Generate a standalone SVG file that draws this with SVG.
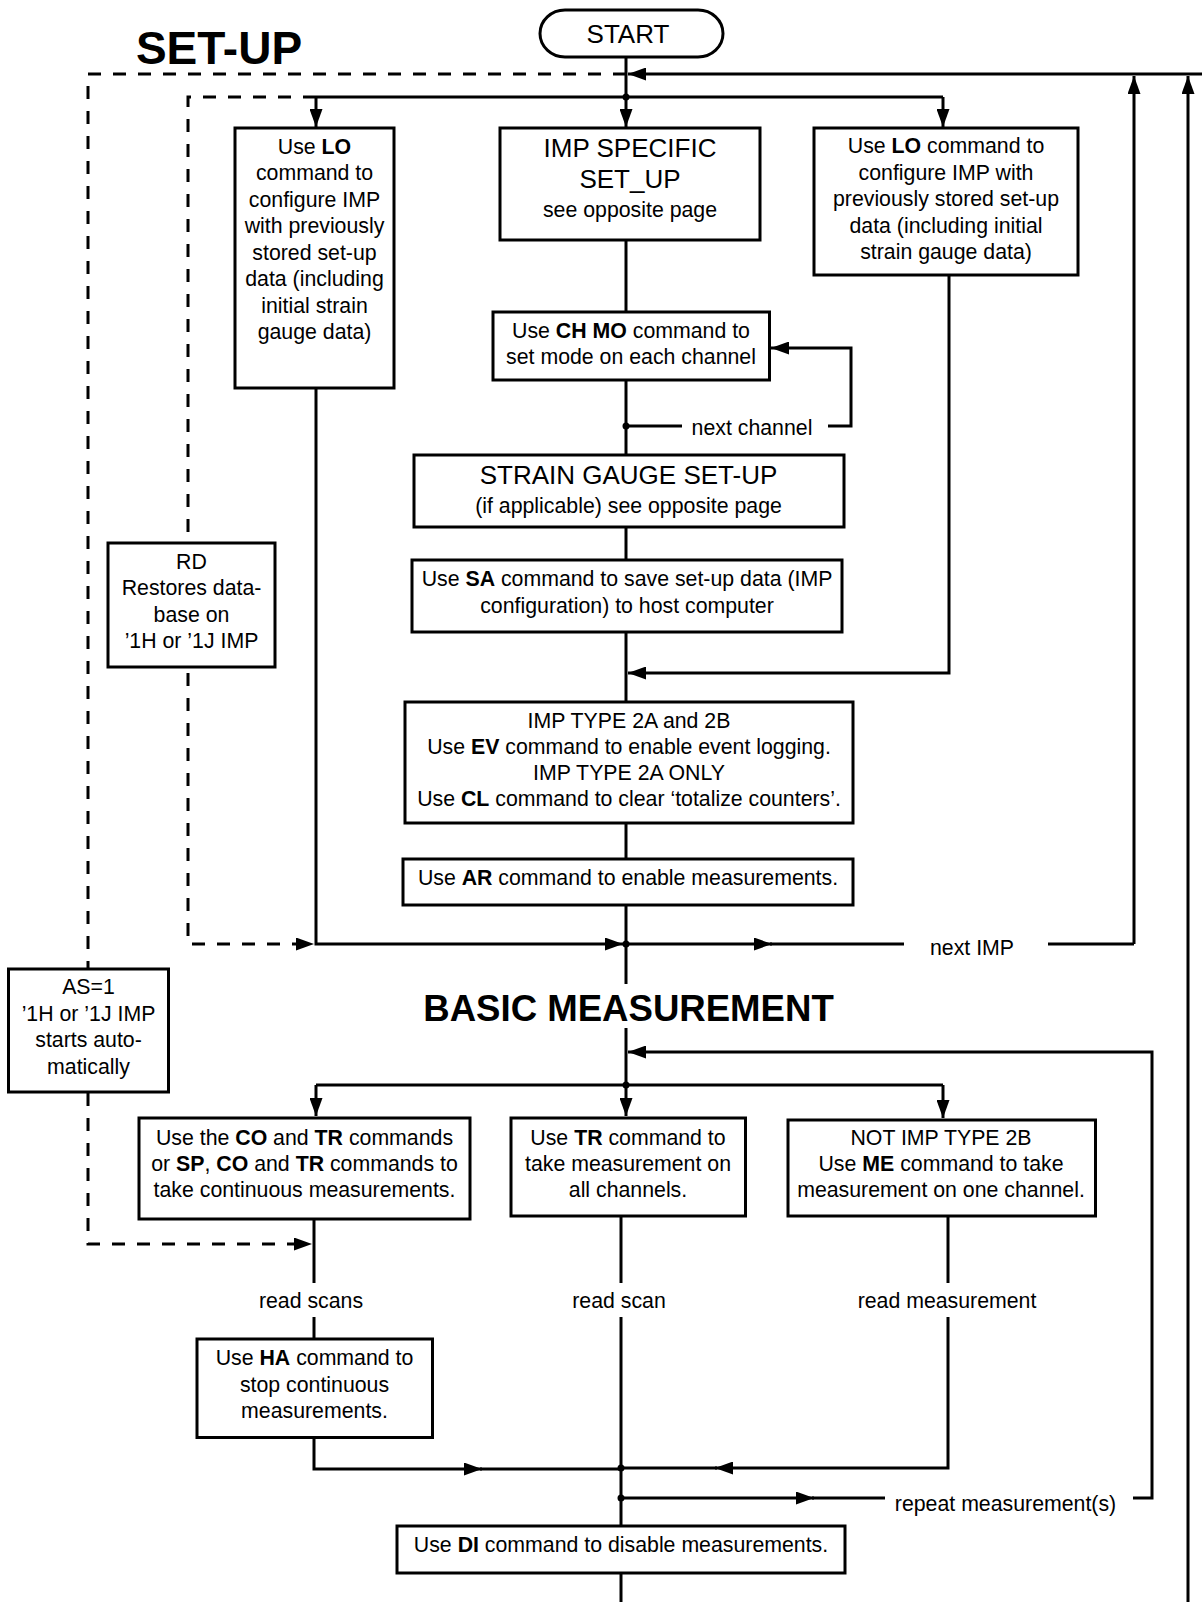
<svg xmlns="http://www.w3.org/2000/svg" width="1202" height="1602" viewBox="0 0 1202 1602">
<defs>
<style>
.box{fill:#fff;stroke:#000;stroke-width:3}
.ln{fill:none;stroke:#000;stroke-width:3}
.dash{fill:none;stroke:#000;stroke-width:3;stroke-dasharray:13 12}
.arr{marker-end:url(#ah)}
.dot{fill:#000}
text{font-family:"Liberation Sans",Arial,Helvetica,sans-serif;font-size:21.3px;fill:#000;text-anchor:middle}
.big{font-size:26px}
.title{font-weight:bold;font-size:46px}
.sub{font-weight:bold;font-size:36.6px}
.b{font-weight:bold}
</style>
<marker id="ah" viewBox="0 0 18 13" refX="18" refY="6.5" markerWidth="18" markerHeight="13" markerUnits="userSpaceOnUse" orient="auto">
<path d="M0,0 L18,6.5 L0,13 z" fill="#000" stroke="none"/>
</marker>
</defs>
<rect x="0" y="0" width="1202" height="1602" fill="#fff"/>

<g id="titles">
<text class="title" x="219" y="64">SET-UP</text>
<text class="sub" x="628.5" y="1021">BASIC MEASUREMENT</text>
</g>

<g id="connectors">
<path class="ln arr" d="M626,57 V127"/>
<path class="ln" d="M316,97 H943"/>
<path class="ln arr" d="M316,97 V127"/>
<path class="ln arr" d="M943,97 V127"/>
<circle class="dot" cx="626" cy="97" r="3.5"/>
<path class="ln arr" d="M1202,74 H628"/>
<path class="ln arr" d="M1134,944 V76"/>
<path class="ln arr" d="M1188,1602 V76"/>
<path class="ln" d="M626,240 V312"/>
<path class="ln" d="M626,380 V455"/>
<path class="ln" d="M626,426 H682"/>
<path class="ln arr" d="M828,426 H851 V348 H771"/>
<circle class="dot" cx="626" cy="426" r="3.5"/>
<text x="752" y="435">next channel</text>
<path class="ln" d="M626,527 V560"/>
<path class="ln" d="M626,632 V702"/>
<path class="ln arr" d="M949,275 V673 H628"/>
<path class="ln" d="M626,823 V859"/>
<path class="ln" d="M626,905 V984"/>
<path class="ln arr" d="M316,388 V944 H623"/>
<path class="ln arr" d="M626,944 H772"/>
<path class="ln" d="M770,944 H904"/>
<path class="ln" d="M1048,944 H1134"/>
<circle class="dot" cx="626" cy="944" r="3.5"/>
<text x="972" y="955">next IMP</text>
<path class="dash" d="M316,97 H188 V533"/>
<path class="dash arr" d="M188,673 V944 H314"/>
<path class="dash" d="M626,74 H88 V968"/>
<path class="dash arr" d="M88,1093 V1244 H312"/>
<path class="ln arr" d="M626,1028 V1116"/>
<path class="ln" d="M316,1085 H943"/>
<path class="ln arr" d="M316,1085 V1116"/>
<path class="ln arr" d="M943,1085 V1118"/>
<circle class="dot" cx="626" cy="1085" r="3.5"/>
<path class="ln arr" d="M1133,1498 H1152 V1052 H628"/>
<path class="ln" d="M314,1219 V1283"/>
<path class="ln" d="M314,1317 V1339"/>
<text x="311" y="1308">read scans</text>
<path class="ln arr" d="M314,1438 V1469 H482"/>
<path class="ln" d="M480,1469 H621"/>
<path class="ln" d="M621,1216 V1283"/>
<path class="ln" d="M621,1317 V1526"/>
<text x="619" y="1308">read scan</text>
<path class="ln" d="M948,1216 V1283"/>
<path class="ln arr" d="M948,1317 V1468 H715"/>
<path class="ln" d="M717,1468 H621"/>
<text x="947" y="1308">read measurement</text>
<circle class="dot" cx="621" cy="1468" r="3.5"/>
<circle class="dot" cx="621" cy="1498" r="3.5"/>
<path class="ln arr" d="M621,1498 H814"/>
<path class="ln" d="M812,1498 H885"/>
<text x="1005.5" y="1511">repeat measurement(s)</text>
<path class="ln" d="M621,1573 V1602"/>
</g>

<g id="start">
<rect class="box" x="540" y="10" width="183" height="47" rx="25" ry="23.5"/>
<text class="big" x="628" y="43">START</text>
</g>

<g id="lo-left">
<rect class="box" x="235" y="128" width="159" height="260"/>
<text x="314.5" y="153.5">Use <tspan class="b">LO</tspan></text>
<text x="314.5" y="180">command to</text>
<text x="314.5" y="206.5">configure IMP</text>
<text x="314.5" y="233">with previously</text>
<text x="314.5" y="259.5">stored set-up</text>
<text x="314.5" y="286">data (including</text>
<text x="314.5" y="312.5">initial strain</text>
<text x="314.5" y="339">gauge data)</text>
</g>

<g id="imp-specific">
<rect class="box" x="500" y="128" width="260" height="112"/>
<text class="big" x="630" y="157">IMP SPECIFIC</text>
<text class="big" x="630" y="188">SET_UP</text>
<text x="630" y="217">see opposite page</text>
</g>

<g id="lo-right">
<rect class="box" x="814" y="128" width="264" height="147"/>
<text x="946" y="153">Use <tspan class="b">LO</tspan> command to</text>
<text x="946" y="179.5">configure IMP with</text>
<text x="946" y="206">previously stored set-up</text>
<text x="946" y="232.5">data (including initial</text>
<text x="946" y="259">strain gauge data)</text>
</g>

<g id="ch-mo">
<rect class="box" x="493" y="312" width="276.5" height="68"/>
<text x="631" y="337.5">Use <tspan class="b">CH MO</tspan> command to</text>
<text x="631" y="363.5">set mode on each channel</text>
</g>

<g id="strain">
<rect class="box" x="414" y="455" width="430" height="72"/>
<text class="big" x="628.5" y="484">STRAIN GAUGE SET-UP</text>
<text x="628.5" y="512.5">(if applicable) see opposite page</text>
</g>

<g id="sa">
<rect class="box" x="412" y="560" width="430" height="72"/>
<text x="627" y="585.5">Use <tspan class="b">SA</tspan> command to save set-up data (IMP</text>
<text x="627" y="612.5">configuration) to host computer</text>
</g>

<g id="ev">
<rect class="box" x="405" y="702" width="448" height="121"/>
<text x="629" y="727.5">IMP TYPE 2A and 2B</text>
<text x="629" y="754">Use <tspan class="b">EV</tspan> command to enable event logging.</text>
<text x="629" y="779.5">IMP TYPE 2A ONLY</text>
<text x="629" y="805.5">Use <tspan class="b">CL</tspan> command to clear ‘totalize counters’.</text>
</g>

<g id="ar">
<rect class="box" x="403" y="859" width="450" height="46"/>
<text x="628" y="884.5">Use <tspan class="b">AR</tspan> command to enable measurements.</text>
</g>

<g id="rd">
<rect class="box" x="108" y="543" width="167" height="124"/>
<text x="191.5" y="568.5">RD</text>
<text x="191.5" y="595">Restores data-</text>
<text x="191.5" y="621.5">base on</text>
<text x="191.5" y="648">’1H or ’1J IMP</text>
</g>

<g id="as">
<rect class="box" x="8.5" y="969" width="160" height="123"/>
<text x="88.5" y="993.5">AS=1</text>
<text x="88.5" y="1020.5">’1H or ’1J IMP</text>
<text x="88.5" y="1046.5">starts auto-</text>
<text x="88.5" y="1073.5">matically</text>
</g>

<g id="co">
<rect class="box" x="139" y="1118" width="331" height="101"/>
<text x="304.5" y="1144.5">Use the <tspan class="b">CO</tspan> and <tspan class="b">TR</tspan> commands</text>
<text x="304.5" y="1170.5">or <tspan class="b">SP</tspan>, <tspan class="b">CO</tspan> and <tspan class="b">TR</tspan> commands to</text>
<text x="304.5" y="1196.5">take continuous measurements.</text>
</g>

<g id="tr">
<rect class="box" x="511" y="1118" width="234.5" height="98"/>
<text x="628" y="1144.5">Use <tspan class="b">TR</tspan> command to</text>
<text x="628" y="1170.5">take measurement on</text>
<text x="628" y="1196.5">all channels.</text>
</g>

<g id="me">
<rect class="box" x="788" y="1120" width="307.5" height="96"/>
<text x="941" y="1144.5">NOT IMP TYPE 2B</text>
<text x="941" y="1170.5">Use <tspan class="b">ME</tspan> command to take</text>
<text x="941" y="1196.5">measurement on one channel.</text>
</g>

<g id="ha">
<rect class="box" x="197" y="1339" width="235.5" height="98.5"/>
<text x="314.5" y="1364.5">Use <tspan class="b">HA</tspan> command to</text>
<text x="314.5" y="1391.5">stop continuous</text>
<text x="314.5" y="1417.5">measurements.</text>
</g>

<g id="di">
<rect class="box" x="397" y="1526" width="448" height="47"/>
<text x="621" y="1551.5">Use <tspan class="b">DI</tspan> command to disable measurements.</text>
</g>
</svg>
